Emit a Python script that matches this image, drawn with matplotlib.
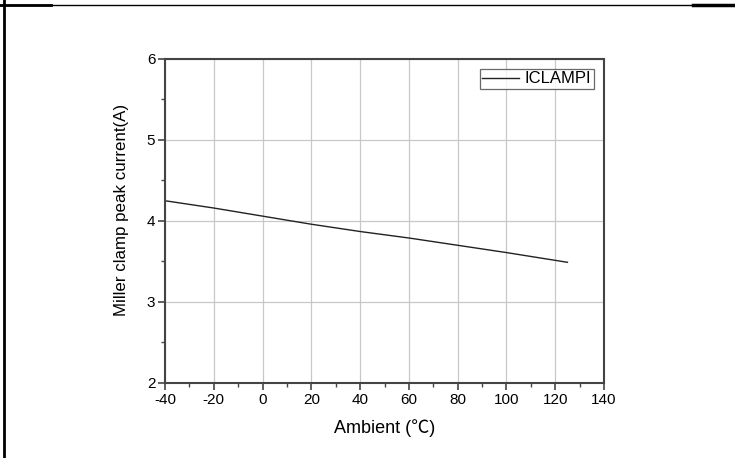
import matplotlib.pyplot as plt
from matplotlib.lines import Line2D
from matplotlib.ticker import MultipleLocator

# temperature (deg C) and Miller clamp peak current (A)
temps = [-40, -20, 0, 20, 40, 60, 80, 100, 125]
iclamp = [4.25, 4.16, 4.06, 3.96, 3.87, 3.79, 3.70, 3.61, 3.49]

x_ticks = [-40, -20, 0, 20, 40, 60, 80, 100, 120, 140]
y_ticks = [2, 3, 4, 5, 6]

plt.rcParams['font.family'] = ['Liberation Sans', 'Noto Sans CJK SC', 'DejaVu Sans']
plt.rcParams['axes.unicode_minus'] = False

fig = plt.figure(figsize=(7.35, 4.58), dpi=100)
ax = fig.add_axes([0.2245, 0.1638, 0.5973, 0.7074])

ax.plot(temps, iclamp, color='#222222', lw=1.0, label='ICLAMPI')

ax.set_xlim(-40, 140)
ax.set_ylim(2, 6)
ax.set_xticks(x_ticks)
ax.set_yticks(y_ticks)
ax.xaxis.set_minor_locator(MultipleLocator(10))
ax.yaxis.set_minor_locator(MultipleLocator(0.5))
ax.grid(True, which='major', color='#c8c8c8', lw=0.9)
ax.set_axisbelow(True)

for s in ax.spines.values():
    s.set_color('#444444')
    s.set_linewidth(1.5)
ax.tick_params(which='major', direction='out', length=5, width=1.2, color='#444444',
               labelsize=11, pad=2)
ax.tick_params(which='minor', direction='out', length=3, width=1.0, color='#444444')

ax.set_xlabel('Ambient (℃)', fontsize=13, labelpad=9)
ax.set_ylabel('Miller clamp peak current(A)', fontsize=12.2)
ax.yaxis.set_label_coords(-0.082, 0.534)

leg = ax.legend(loc='upper right', fontsize=12, frameon=True, fancybox=False,
                borderpad=0.15, handlelength=2.2, handletextpad=0.35,
                borderaxespad=0.6)
leg.get_frame().set_edgecolor('#444444')
leg.get_frame().set_linewidth(0.9)

# frame lines of the surrounding document table
fig.add_artist(Line2D([0.006, 0.006], [0, 1], transform=fig.transFigure, color='black', lw=2))
fig.add_artist(Line2D([0, 1], [0.988, 0.988], transform=fig.transFigure, color='black', lw=1))
fig.add_artist(Line2D([0, 0.07], [0.988, 0.988], transform=fig.transFigure, color='black', lw=2))
fig.add_artist(Line2D([0.943, 1], [0.988, 0.988], transform=fig.transFigure, color='black', lw=2.5))

fig.savefig('out.png', dpi=100)
